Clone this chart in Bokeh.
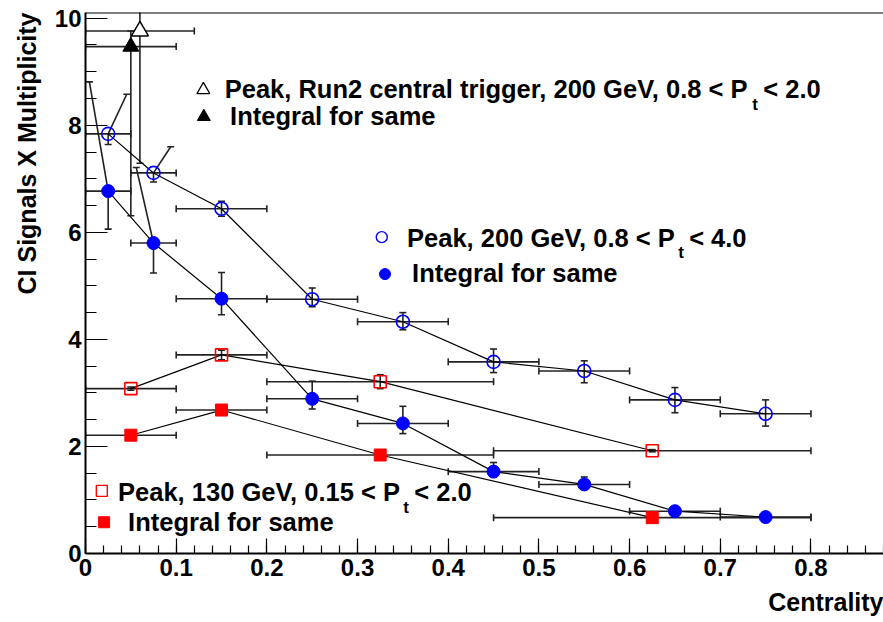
import numpy as np
from bokeh.plotting import figure
from bokeh.models import FixedTicker, Span, Range1d, ColumnDataSource, Title
from bokeh.core.properties import value
from bokeh.embed import file_html
from bokeh.resources import INLINE

# ---------------- data ----------------
cent200 = [0.025, 0.075, 0.15, 0.25, 0.35, 0.45, 0.55, 0.65, 0.75]
cent200_err = [0.025, 0.025, 0.05, 0.05, 0.05, 0.05, 0.05, 0.05, 0.05]
peak200 = [7.84, 7.11, 6.44, 4.75, 4.33, 3.58, 3.41, 2.87, 2.61]
peak200_lo = [0.20, 0.17, 0.14, 0.14, 0.15, 0.20, 0.22, 0.24, 0.23]
peak200_hi = [0.0, 0.0, 0.14, 0.21, 0.17, 0.24, 0.19, 0.23, 0.26]
int200 = [6.77, 5.80, 4.76, 2.89, 2.43, 1.53, 1.29, 0.79, 0.68]
int200_lo = [0.71, 0.56, 0.30, 0.19, 0.19, 0.05, 0.05, 0.05, 0.03]
int200_hi = [0.0, 0.0, 0.49, 0.33, 0.32, 0.17, 0.14, 0.05, 0.03]

cent130 = [0.05, 0.15, 0.325, 0.625]
cent130_err = [0.05, 0.05, 0.125, 0.175]
peak130 = [3.08, 3.71, 3.21, 1.92]
peak130_err = [0.03, 0.09, 0.13, 0.02]
int130 = [2.21, 2.68, 1.84, 0.67]
int130_err = [0.03, 0.05, 0.04, 0.02]

centrun2 = [0.06, 0.05]
centrun2_err = [0.06, 0.05]
run2_vals = [9.76, 9.47]          # peak (open), integral (filled)
run2_lo = [2.47, 3.16]
run2_hi = [1.0, 0.29]

# skewed upper error bars of the two most central 200 GeV points
skew_x0 = [0.025, 0.075, 0.025, 0.075]
skew_y0 = [7.84, 7.11, 6.77, 5.80]
skew_x1 = [0.0455, 0.094, 0.0043, 0.056]
skew_y1 = [8.58, 7.60, 8.81, 7.21]

x_ticks = [0, 0.1, 0.2, 0.3, 0.4, 0.5, 0.6, 0.7, 0.8]
x_tick_labels = ["0", "0.1", "0.2", "0.3", "0.4", "0.5", "0.6", "0.7", "0.8"]
y_ticks = [0, 2, 4, 6, 8, 10]
y_tick_labels = ["0", "2", "4", "6", "8", "10"]
x_title = "Centrality"
y_title = "CI Signals X Multiplicity"

leg_main = ["Peak, Run2 central trigger, 200 GeV, 0.8 < P",
            "Peak, 200 GeV, 0.8 < P",
            "Peak, 130 GeV, 0.15 < P"]
leg_rest = ["< 2.0", "< 4.0", "< 2.0"]
leg_same = "Integral for same"

# ---------------- figure ----------------
FONT = "Liberation Sans"
p = figure(width=883, height=622, output_backend="svg", toolbar_location=None,
           x_range=Range1d(0, 0.88), y_range=Range1d(0, 10.107),
           min_border_left=85, min_border_right=0, min_border_top=12,
           min_border_bottom=69)
p.grid.visible = False
p.outline_line_color = None
p.background_fill_color = "white"
p.border_fill_color = "white"

xa = p.xaxis[0]
xa.ticker = FixedTicker(ticks=x_ticks,
                        minor_ticks=[round(0.02 * i, 2) for i in range(0, 45)])
xa.major_label_overrides = {t: l for t, l in zip(x_ticks, x_tick_labels)}
ya = p.yaxis[0]
ya.ticker = FixedTicker(ticks=y_ticks, minor_ticks=[0.5 * i for i in range(0, 21)])
ya.major_label_overrides = {t: l for t, l in zip(y_ticks, y_tick_labels)}

for ax in (xa, ya):
    ax.axis_line_width = 2
    ax.axis_line_color = "black"
    ax.major_tick_out = 0
    ax.minor_tick_out = 0
    ax.major_tick_line_color = "black"
    ax.minor_tick_line_color = "black"
    ax.major_tick_line_width = 1.2
    ax.minor_tick_line_width = 1.2
    ax.major_label_text_font = FONT
    ax.major_label_text_font_style = "bold"
    ax.major_label_text_font_size = "24px"
    ax.major_label_text_color = "black"

xa.major_tick_in = 15
xa.minor_tick_in = 8
xa.major_label_standoff = 5
ya.major_tick_in = 22
ya.minor_tick_in = 11
ya.major_label_standoff = 4

# axis titles, right/top aligned as in the original
p.add_layout(Title(text=x_title, align="right", text_font=FONT,
                   text_font_style="bold", text_font_size="25px",
                   text_color="black", standoff=14), "below")
p.add_layout(Title(text=y_title, align="right", vertical_align="top",
                   text_font=FONT, text_font_style="bold", text_font_size="25px",
                   text_color="black", standoff=18), "left")

p.add_layout(Span(location=10.1, dimension="width", line_color="black", line_width=1.5))

ERR = "#222222"
EW = 1.6
CAP = 7


def xbars(xc, xe, y):
    xc = np.array(xc); xe = np.array(xe); y = np.array(y)
    p.segment(xc - xe, y, xc + xe, y, line_color=ERR, line_width=EW)
    p.scatter(np.r_[xc - xe, xc + xe], np.r_[y, y], marker="dash", size=CAP,
              angle=np.pi / 2, line_color=ERR, line_width=EW)


def ybars(x, y, lo, hi):
    x = np.array(x); y = np.array(y); lo = np.array(lo); hi = np.array(hi)
    p.segment(x, y - lo, x, y + hi, line_color=ERR, line_width=EW)
    mlo = lo > 0
    mhi = hi > 0
    p.scatter(np.r_[x[mlo], x[mhi]], np.r_[(y - lo)[mlo], (y + hi)[mhi]],
              marker="dash", size=CAP, line_color=ERR, line_width=EW)


# error bars
xbars(cent200, cent200_err, peak200)
xbars(cent200, cent200_err, int200)
ybars(cent200, peak200, peak200_lo, peak200_hi)
ybars(cent200, int200, int200_lo, int200_hi)
xbars(cent130, cent130_err, peak130)
xbars(cent130, cent130_err, int130)
ybars(cent130, peak130, peak130_err, peak130_err)
ybars(cent130, int130, int130_err, int130_err)
xbars(centrun2, centrun2_err, run2_vals)
# run2 vertical bars (open one runs off the top of the frame)
p.segment(centrun2, np.array(run2_vals) - np.array(run2_lo), centrun2,
          np.array(run2_vals) + np.array(run2_hi), line_color=ERR, line_width=EW)
p.scatter(centrun2 + [centrun2[1]],
          list(np.array(run2_vals) - np.array(run2_lo)) + [run2_vals[1] + run2_hi[1]],
          marker="dash", size=CAP, line_color=ERR, line_width=EW)
# skewed bars
p.segment(skew_x0, skew_y0, skew_x1, skew_y1, line_color=ERR, line_width=EW)
p.scatter(skew_x1, skew_y1, marker="dash", size=CAP, line_color=ERR, line_width=EW)

# connecting lines
p.line(cent200, peak200, line_color="black", line_width=1.2)
p.line(cent200, int200, line_color="black", line_width=1.2)
p.line(cent130, peak130, line_color="black", line_width=1.2)
p.line(cent130, int130, line_color="black", line_width=1.2)

# markers
p.scatter(cent200, peak200, marker="circle", size=13, fill_color=None,
          line_color="blue", line_width=1.6)
p.scatter(cent200, int200, marker="circle", size=13, fill_color="blue",
          line_color="blue")
p.scatter(cent130, peak130, marker="square", size=12, fill_color=None,
          line_color="red", line_width=1.6)
p.scatter(cent130, int130, marker="square", size=12, fill_color="red",
          line_color="red")
p.scatter([centrun2[0]], [run2_vals[0]], marker="triangle", size=17,
          fill_color="white", line_color="black", line_width=1.5)
p.scatter([centrun2[1]], [run2_vals[1]], marker="triangle", size=16,
          fill_color="black", line_color="black")

# ---------------- legends ----------------
p.scatter([0.1300], [8.66], marker="triangle", size=13, fill_color="white",
          line_color="black", line_width=1.3)
p.scatter([0.1305], [8.16], marker="triangle", size=13, fill_color="black",
          line_color="black")
p.scatter([0.3267], [5.91], marker="circle", size=11, fill_color=None,
          line_color="blue", line_width=1.4)
p.scatter([0.3303], [5.22], marker="circle", size=11, fill_color="blue",
          line_color="blue")
p.scatter([0.018], [1.17], marker="square", size=11, fill_color=None,
          line_color="red", line_width=1.4)
p.scatter([0.0205], [0.584], marker="square", size=11, fill_color="red",
          line_color="red")

W = {'P': 667, 'e': 556, 'a': 556, 'k': 556, ',': 278, ' ': 278, 'R': 722,
     'u': 611, 'n': 611, '2': 556, 'c': 556, 't': 333, 'r': 389, 'l': 278,
     'i': 278, 'g': 611, '0': 556, '1': 556, '3': 556, '4': 556, '5': 556,
     '8': 556, 'G': 778, 'V': 667, '.': 278, '<': 584}
FS = 25.5


def tw(s, fs):
    return sum(W[c] for c in s) * fs / 1000.0


main_x = [0.1535, 0.3546, 0.0359]
main_y = [8.675, 5.90, 1.14]
same_x = [0.1594, 0.3601, 0.0470]
same_y = [8.17, 5.24, 0.58]

main_w = [tw(s, FS) for s in leg_main]
src_main = ColumnDataSource(dict(x=main_x, y=main_y, text=leg_main))
src_sub = ColumnDataSource(dict(x=main_x, y=main_y, text=["t"] * 3,
                                xo=[w + 1 for w in main_w]))
src_rest = ColumnDataSource(dict(x=main_x, y=main_y, text=leg_rest,
                                 xo=[w + 12 for w in main_w]))
src_same = ColumnDataSource(dict(x=same_x, y=same_y, text=[leg_same] * 3))

common = dict(text_font=value(FONT), text_font_style="bold", text_color="black",
              text_baseline="middle", text_align="left")
p.text(x="x", y="y", text="text", source=src_main, text_font_size="25.5px", **common)
p.text(x="x", y="y", text="text", source=src_same, text_font_size="25.5px", **common)
p.text(x="x", y="y", text="text", source=src_rest, x_offset="xo",
       text_font_size="25.5px", **common)
p.text(x="x", y="y", text="text", source=src_sub, x_offset="xo", y_offset=15,
       text_font_size="17px", **common)

open("out.html", "w").write(file_html(p, INLINE))
